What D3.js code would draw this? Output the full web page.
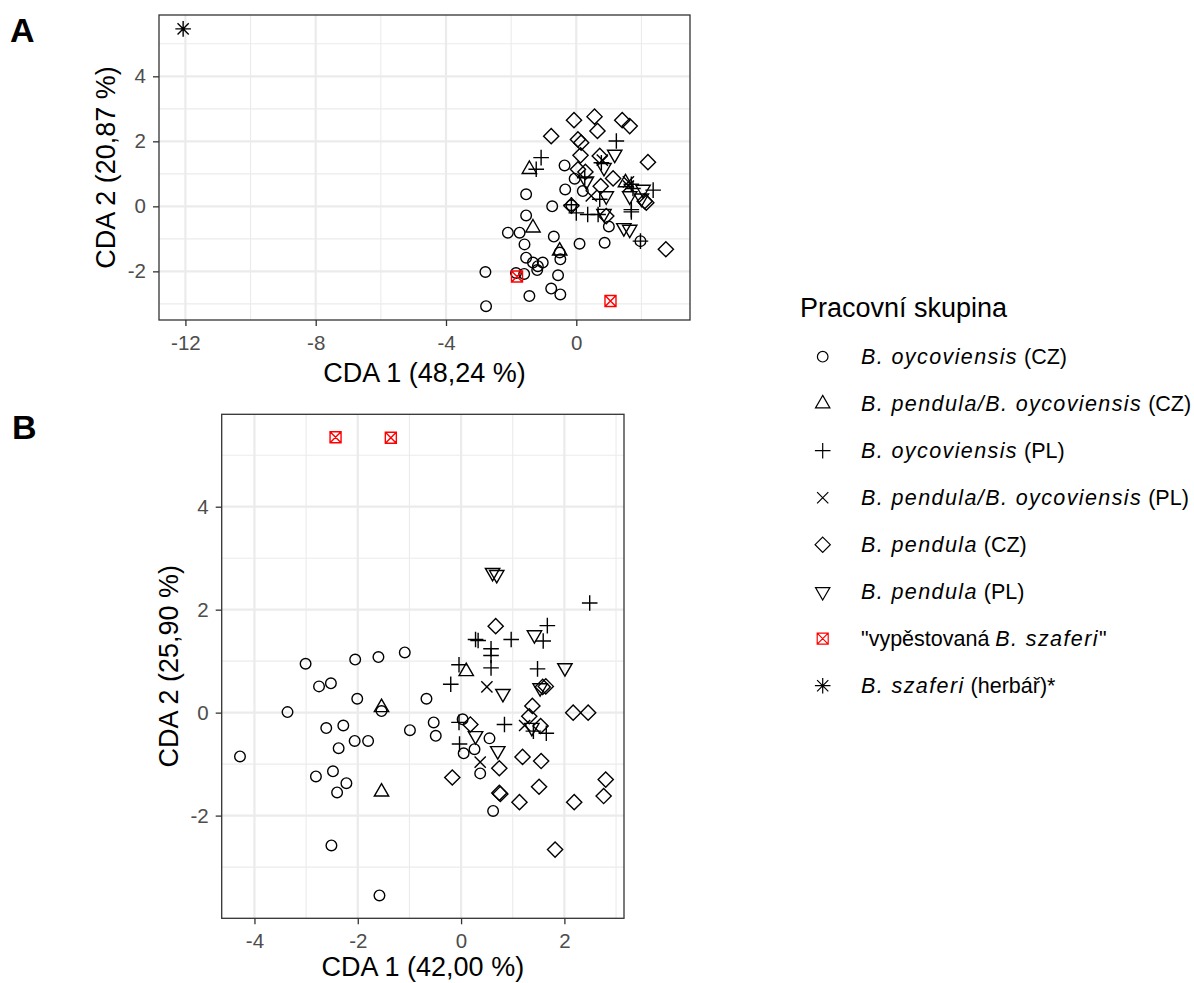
<!DOCTYPE html>
<html><head><meta charset="utf-8">
<script src="https://cdn.jsdelivr.net/npm/d3@7"></script>
<style>
body{margin:0;background:#fff}
text{font-family:"Liberation Sans",Arial,sans-serif}
</style>
</head><body><svg id="c" width="1194" height="983"></svg>
<script>
// ---------- groups / legend ----------
const groupShapes = ["circle","triUp","plus","cross","diamond","triDown","squareX","asterisk"];
const groupColors = ["#000","#000","#000","#000","#000","#000","#FF0000","#000"];
const legendTitle = "Pracovní skupina";
const legendLabels = [
  [["B. oycoviensis",true],[" (CZ)",false]],
  [["B. pendula/B. oycoviensis",true],[" (CZ)",false]],
  [["B. oycoviensis",true],[" (PL)",false]],
  [["B. pendula/B. oycoviensis",true],[" (PL)",false]],
  [["B. pendula",true],[" (CZ)",false]],
  [["B. pendula",true],[" (PL)",false]],
  [["\"vypěstovaná ",false],["B. szaferi",true],["\"",false]],
  [["B. szaferi",true],[" (herbář)*",false]]
];

// ---------- panel A data ----------
const A_oycCZ = [[-0.36,1.26],[-0.05,0.85],[-0.34,0.52],[0.2,0.47],[-1.54,0.37],[-0.74,0.0],[-0.15,0.03],[-1.54,-0.28],[-2.1,-0.81],[-1.74,-0.81],[-0.69,-0.93],[1.0,-0.62],[-1.59,-1.17],[0.1,-1.15],[0.87,-1.12],[1.97,-1.07],[-0.51,-1.42],[-0.49,-1.63],[-1.54,-1.58],[-1.33,-1.73],[-1.18,-1.84],[-1.03,-1.73],[-1.2,-1.96],[-2.79,-2.02],[-1.85,-2.05],[-1.6,-2.08],[-0.56,-2.12],[-0.77,-2.53],[-0.49,-2.71],[-1.44,-2.76],[-2.77,-3.07]];
const A_hybCZ = [[-1.44,1.14],[1.51,0.73],[-1.33,-0.66],[-0.51,-1.37]];
const A_oycPL = [[1.23,2.01],[-1.08,1.5],[-1.23,1.14],[0.77,1.34],[0.26,0.88],[1.69,0.68],[1.74,0.55],[2.36,0.5],[0.72,0.22],[-0.15,0.05],[1.69,-0.1],[0.0,-0.2],[0.35,-0.25],[0.67,-0.25],[1.69,-0.17],[1.97,-1.07]];
const A_hybPL = [[0.46,0.32],[0.8,1.42],[1.6,0.62],[1.6,0.75]];
const A_penCZ = [[-0.07,2.65],[0.56,2.76],[1.41,2.65],[1.64,2.47],[0.65,2.32],[-0.77,2.16],[0.05,2.06],[0.15,1.96],[0.13,1.57],[0.72,1.55],[2.2,1.36],[0.05,1.14],[0.28,1.06],[1.13,0.86],[0.75,0.62],[2.1,0.16],[2.15,0.11],[0.92,-0.3],[2.75,-1.32],[-0.15,0.02]];
const A_penPL = [[1.18,1.6],[0.85,1.19],[0.31,0.78],[0.92,0.32],[1.64,0.32],[2.05,0.52],[1.46,-0.66],[1.64,-0.71],[0.85,-0.22],[2.0,0.25]];
const A_cult = [[-1.82,-2.16],[1.05,-2.91]];
const A_herb = [[-12.07,5.46]];

// ---------- panel B data ----------
const B_oycCZ = [[-3.01,0.95],[-2.05,1.03],[-1.6,1.08],[-1.09,1.17],[-2.75,0.51],[-2.52,0.57],[-2.01,0.27],[-1.54,0.03],[-0.67,0.27],[-3.36,0.01],[-2.61,-0.3],[-2.28,-0.25],[-0.99,-0.34],[-2.06,-0.55],[-1.8,-0.55],[-2.37,-0.69],[-4.28,-0.85],[-2.81,-1.24],[-2.48,-1.14],[-2.22,-1.37],[-2.4,-1.55],[-2.51,-2.58],[-1.58,-3.55],[-0.53,-0.19],[-0.49,-0.45],[0.03,-0.13],[0.55,-0.5],[0.26,-0.71],[0.05,-0.79],[0.37,-1.18],[0.62,-1.91]];
const B_hybCZ = [[-1.54,0.1],[-1.54,-1.54],[0.1,0.8]];
const B_oycPL = [[2.49,2.13],[1.67,1.69],[1.59,1.39],[0.28,1.42],[0.33,1.4],[0.97,1.42],[0.58,1.24],[0.58,1.11],[0.58,0.87],[-0.04,0.93],[-0.2,0.55],[1.48,0.85],[-0.04,-0.19],[0.84,-0.23],[1.4,-0.36],[1.65,-0.4],[-0.03,-0.61]];
const B_hybPL = [[0.5,0.5],[1.23,-0.25],[0.37,-0.96]];
const B_penCZ = [[0.67,1.68],[1.58,0.5],[1.64,0.51],[1.38,0.13],[2.17,0.0],[2.46,0.0],[0.18,-0.23],[1.32,-0.07],[1.54,-0.26],[0.74,-1.08],[1.19,-0.86],[1.55,-0.94],[-0.17,-1.26],[0.74,-1.56],[0.76,-1.58],[1.13,-1.74],[1.51,-1.44],[2.19,-1.74],[2.8,-1.3],[2.76,-1.62],[1.82,-2.66]];
const B_penPL = [[0.61,2.72],[0.69,2.68],[1.42,1.51],[0.81,0.37],[2.01,0.87],[1.53,0.48],[1.37,-0.29],[0.28,-0.45],[0.71,-0.74]];
const B_cult = [[-2.43,5.35],[-1.36,5.34]];
const B_herb = [];

// ---------- ticks / labels ----------
const A_xTicks = [-12,-8,-4,0], A_yTicks = [-2,0,2,4];
const B_xTicks = [-4,-2,0,2],   B_yTicks = [-2,0,2,4];
const A_xLabel = "CDA 1 (48,24 %)", A_yLabel = "CDA 2 (20,87 %)";
const B_xLabel = "CDA 1 (42,00 %)", B_yLabel = "CDA 2 (25,90 %)";

// ---------- drawing ----------
const svg = d3.select("#c");
const FONT = '"Liberation Sans",Arial,sans-serif';

function symbolPath(shape){
  const p = d3.path();
  const r=5.3, R=8.3, d=7.6, a=7.8, b=5.6, s=5.5;
  switch(shape){
    case "circle": p.arc(0,0,r,0,2*Math.PI); p.closePath(); break;
    case "triUp": p.moveTo(0,-R); p.lineTo(R*0.866,R/2); p.lineTo(-R*0.866,R/2); p.closePath(); break;
    case "triDown": p.moveTo(0,R); p.lineTo(R*0.866,-R/2); p.lineTo(-R*0.866,-R/2); p.closePath(); break;
    case "diamond": p.moveTo(0,-d); p.lineTo(d,0); p.lineTo(0,d); p.lineTo(-d,0); p.closePath(); break;
    case "plus": p.moveTo(-a,0); p.lineTo(a,0); p.moveTo(0,-a); p.lineTo(0,a); break;
    case "cross": p.moveTo(-b,-b); p.lineTo(b,b); p.moveTo(-b,b); p.lineTo(b,-b); break;
    case "squareX": p.rect(-s,-s,2*s,2*s); p.moveTo(-s,-s); p.lineTo(s,s); p.moveTo(-s,s); p.lineTo(s,-s); break;
    case "asterisk": p.moveTo(-a,0); p.lineTo(a,0); p.moveTo(0,-a); p.lineTo(0,a);
      p.moveTo(-b,-b); p.lineTo(b,b); p.moveTo(-b,b); p.lineTo(b,-b); break;
  }
  return p.toString();
}

function drawPanel(cfg){
  const all = cfg.series.flat();
  const xe = d3.extent(all, d=>d[0]), ye = d3.extent(all, d=>d[1]);
  const xp = (xe[1]-xe[0])*0.05, yp = (ye[1]-ye[0])*0.05;
  const x = d3.scaleLinear().domain([xe[0]-xp, xe[1]+xp]).range([cfg.left, cfg.right]);
  const y = d3.scaleLinear().domain([ye[0]-yp, ye[1]+yp]).range([cfg.bottom, cfg.top]);
  const g = svg.append("g");
  const step = (t)=>t[1]-t[0];
  const xMinor = d3.range(cfg.xTicks[0]-step(cfg.xTicks)/2, x.domain()[1], step(cfg.xTicks)).filter(v=>v>x.domain()[0] && v<x.domain()[1]);
  const yMinor = d3.range(cfg.yTicks[0]-step(cfg.yTicks)*1.5, y.domain()[1], step(cfg.yTicks)).filter(v=>v>y.domain()[0] && v<y.domain()[1]);
  g.selectAll(".xmin").data(xMinor).join("line").attr("x1",d=>x(d)).attr("x2",d=>x(d))
    .attr("y1",cfg.top).attr("y2",cfg.bottom).attr("stroke","#EBEBEB").attr("stroke-width",1.1);
  g.selectAll(".ymin").data(yMinor).join("line").attr("y1",d=>y(d)).attr("y2",d=>y(d))
    .attr("x1",cfg.left).attr("x2",cfg.right).attr("stroke","#EBEBEB").attr("stroke-width",1.1);
  g.selectAll(".xmaj").data(cfg.xTicks).join("line").attr("x1",d=>x(d)).attr("x2",d=>x(d))
    .attr("y1",cfg.top).attr("y2",cfg.bottom).attr("stroke","#EBEBEB").attr("stroke-width",2.2);
  g.selectAll(".ymaj").data(cfg.yTicks).join("line").attr("y1",d=>y(d)).attr("y2",d=>y(d))
    .attr("x1",cfg.left).attr("x2",cfg.right).attr("stroke","#EBEBEB").attr("stroke-width",2.2);
  cfg.series.forEach((ser,i)=>{
    g.append("g").selectAll("path").data(ser).join("path")
      .attr("transform",d=>`translate(${x(d[0])},${y(d[1])})`)
      .attr("d",symbolPath(groupShapes[i]))
      .attr("fill","none").attr("stroke",groupColors[i]).attr("stroke-width",1.4);
  });
  g.append("rect").attr("x",cfg.left).attr("y",cfg.top).attr("width",cfg.right-cfg.left)
    .attr("height",cfg.bottom-cfg.top).attr("fill","none").attr("stroke","#333").attr("stroke-width",1.3);
  const ax = g.append("g").attr("transform",`translate(0,${cfg.bottom})`)
    .call(d3.axisBottom(x).tickValues(cfg.xTicks).tickSize(6).tickPadding(9.5));
  const ay = g.append("g").attr("transform",`translate(${cfg.left},0)`)
    .call(d3.axisLeft(y).tickValues(cfg.yTicks).tickSize(6).tickPadding(7));
  [ax,ay].forEach(a=>{
    a.select(".domain").remove();
    a.selectAll(".tick line").attr("stroke","#333").attr("stroke-width",1.3);
    a.selectAll(".tick text").attr("fill","#4D4D4D").style("font-size","20.5px")
      .style("font-family",FONT).text(d=>d<0?"-"+Math.abs(d):String(d));
  });
  g.append("text").attr("x",(cfg.left+cfg.right)/2).attr("y",cfg.xTitleY).attr("text-anchor","middle")
    .style("font-size","27px").attr("fill","#000").text(cfg.xLabel);
  g.append("text").attr("transform",`translate(${cfg.yTitleX},${(cfg.top+cfg.bottom)/2}) rotate(-90)`)
    .attr("text-anchor","middle").style("font-size","27px").attr("fill","#000").text(cfg.yLabel);
  g.append("text").attr("x",cfg.tagX).attr("y",cfg.tagY).style("font-size","34px").style("font-weight","bold").text(cfg.tag);
}

drawPanel({series:[A_oycCZ,A_hybCZ,A_oycPL,A_hybPL,A_penCZ,A_penPL,A_cult,A_herb],
  left:159,right:690,top:15,bottom:320,xTicks:A_xTicks,yTicks:A_yTicks,
  xLabel:A_xLabel,yLabel:A_yLabel,xTitleY:382,yTitleX:115,tag:"A",tagX:10,tagY:42});
drawPanel({series:[B_oycCZ,B_hybCZ,B_oycPL,B_hybPL,B_penCZ,B_penPL,B_cult,B_herb],
  left:221.7,right:624,top:414.3,bottom:918.3,xTicks:B_xTicks,yTicks:B_yTicks,
  xLabel:B_xLabel,yLabel:B_yLabel,xTitleY:976,yTitleX:178,tag:"B",tagX:12,tagY:439});

// legend
const lg = svg.append("g");
lg.append("text").attr("x",800).attr("y",317).style("font-size","27px").text(legendTitle);
legendLabels.forEach((segs,i)=>{
  const cy = 356.7 + i*47;
  lg.append("path").attr("transform",`translate(822.7,${cy})`).attr("d",symbolPath(groupShapes[i]))
    .attr("fill","none").attr("stroke",groupColors[i]).attr("stroke-width",1.2);
  const t = lg.append("text").attr("x",861).attr("y",cy).attr("dy","0.35em").style("font-size","21.5px");
  segs.forEach(([s,it])=>{
    const ts = t.append("tspan").text(s);
    if(it){ ts.style("font-style","italic").style("letter-spacing","1.4px"); }
  });
});
</script></body></html>
